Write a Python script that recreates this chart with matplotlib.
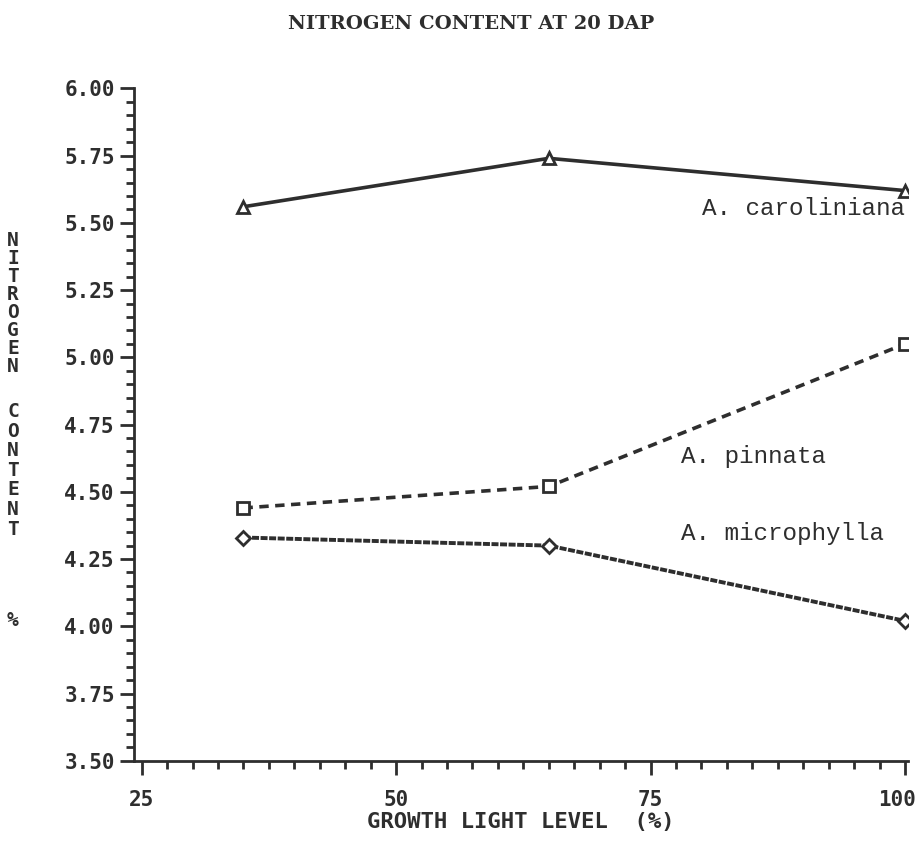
import matplotlib.pyplot as plt
import matplotlib.transforms as mtransforms
from matplotlib.ticker import MultipleLocator, FormatStrFormatter

# growth light level (%) and nitrogen content (%) at 20 DAP
lightLevels = [35, 65, 100]
caroliniana = [5.56, 5.74, 5.62]
pinnata = [4.44, 4.52, 5.05]
microphylla = [4.33, 4.30, 4.02]

xTicks = [25, 50, 75, 100]
yTicks = [3.50, 3.75, 4.00, 4.25, 4.50, 4.75, 5.00, 5.25, 5.50, 5.75, 6.00]

ink = '#2e2e2e'
plotFont = 'DejaVu Sans Mono'
typeFont = 'Liberation Mono'

fig = plt.figure(figsize=(9.21, 8.5), dpi=100)
ax = fig.add_axes([0.145, 0.105, 0.841, 0.791])

ax.plot(lightLevels, caroliniana, color=ink, lw=2.6, ls='-',
        marker='^', ms=8, mfc='white', mec=ink, mew=2)
ax.plot(lightLevels, pinnata, color=ink, lw=2.6, ls=(0, (2.6, 1.8)),
        marker='s', ms=8, mfc='white', mec=ink, mew=2)
ax.plot(lightLevels, microphylla, color=ink, lw=2.8, ls=(0, (1.8, 0.4)),
        marker='D', ms=7, mfc='white', mec=ink, mew=2)

ax.set_xlim(24.2, 100.3)
ax.set_ylim(3.5, 6.0)
ax.set_xticks(xTicks)
ax.set_yticks(yTicks)
ax.xaxis.set_minor_locator(MultipleLocator(2.5))
ax.yaxis.set_minor_locator(MultipleLocator(0.05))
ax.yaxis.set_major_formatter(FormatStrFormatter('%.2f'))

for side in ['top', 'right']:
    ax.spines[side].set_visible(False)
for side in ['left', 'bottom']:
    ax.spines[side].set_linewidth(2)
    ax.spines[side].set_color(ink)

ax.tick_params(which='major', direction='out', length=10, width=2, color=ink,
               labelsize=15, labelcolor=ink)
ax.tick_params(axis='x', which='major', pad=11)
ax.tick_params(which='minor', direction='out', length=6, width=2, color=ink)
for lab in ax.get_xticklabels() + ax.get_yticklabels():
    lab.set_fontfamily(plotFont)
    lab.set_fontweight('bold')

# nudge the last x label so it stays inside the figure
lastLab = ax.get_xticklabels()[-1]
lastLab.set_transform(lastLab.get_transform() +
                      mtransforms.ScaledTranslation(-8 / 100, 0, fig.dpi_scale_trans))

# species names beside their lines
ax.text(100, 5.555, 'A. caroliniana', ha='right', va='center',
        fontsize=17.5, family=typeFont, color=ink)
ax.text(78.0, 4.63, 'A. pinnata', ha='left', va='center',
        fontsize=17.5, family=typeFont, color=ink)
ax.text(78.0, 4.345, 'A. microphylla', ha='left', va='center',
        fontsize=17.5, family=typeFont, color=ink)

fig.text(0.512, 0.972, 'NITROGEN CONTENT AT 20 DAP', ha='center', va='center',
         fontsize=14, family='DejaVu Serif', fontweight='bold', color=ink)
fig.text(0.565, 0.033, 'GROWTH LIGHT LEVEL  (%)', ha='center', va='center',
         fontsize=16, family=plotFont, fontweight='bold', color=ink)

# stacked vertical axis title
fig.text(0.014, 0.728, '\n'.join('NITROGEN'), ha='center', va='top',
         fontsize=14, family=plotFont, fontweight='bold', color=ink,
         linespacing=0.93)
fig.text(0.014, 0.527, '\n'.join('CONTENT'), ha='center', va='top',
         fontsize=14, family=plotFont, fontweight='bold', color=ink,
         linespacing=1.04)
fig.text(0.014, 0.27, '%', ha='center', va='center',
         fontsize=14, family=plotFont, fontweight='bold', color=ink)

fig.savefig('out.png', dpi=100)
